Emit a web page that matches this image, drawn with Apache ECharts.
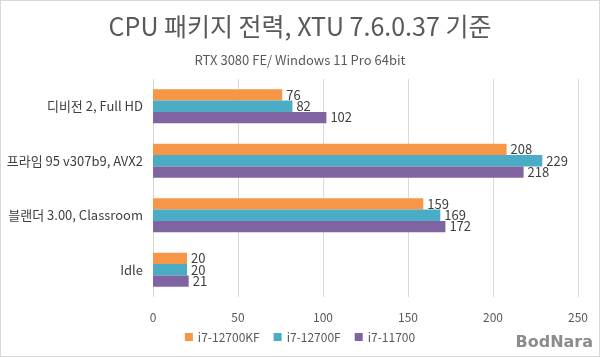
<!DOCTYPE html>
<html><head><meta charset="utf-8">
<script src="https://cdn.jsdelivr.net/npm/echarts@6/dist/echarts.min.js"></script>
<style>html,body{margin:0;padding:0;background:#fff}#c{width:598px;height:355px;border:1px solid #d9d9d9}</style>
</head><body><div id="c"></div>
<script>
const categories = ['디비전 2, Full HD', '프라임 95 v307b9, AVX2', '블랜더 3.00, Classroom', 'Idle'];
const seriesNames = ['i7-12700KF', 'i7-12700F', 'i7-11700'];
const s12700KF = [76, 208, 159, 20];
const s12700F = [82, 229, 169, 20];
const s11700 = [102, 218, 172, 21];
const xTicks = [0, 50, 100, 150, 200, 250];
const colors = ['#F79646', '#4BACC6', '#8064A2'];
const font = '"Noto Sans CJK KR", "Noto Sans", sans-serif';

const chart = echarts.init(document.getElementById('c'));
const mk = (name, data, i) => ({
  name, type: 'bar', data, barGap: '0%', barCategoryGap: '38%',
  itemStyle: { color: colors[i] },
  label: { show: true, position: 'right', distance: 4, color: '#404040', fontSize: 13, fontFamily: font },
  emphasis: { disabled: true }, animation: false
});
chart.setOption({
  animation: false,
  title: [
    { text: 'CPU 패키지 전력, XTU 7.6.0.37 기준', left: 'center', top: 8,
      textStyle: { fontSize: 25, fontWeight: 'normal', color: '#595959', fontFamily: font } },
    { text: 'RTX 3080 FE/ Windows 11 Pro 64bit', left: 'center', top: 48,
      textStyle: { fontSize: 13, fontWeight: 'normal', color: '#595959', fontFamily: font } }
  ],
  grid: { left: 152, right: 21, top: 78, bottom: 59, containLabel: false },
  legend: {
    bottom: 8, left: 'center', itemWidth: 8, itemHeight: 8, itemGap: 14, icon: 'rect',
    textStyle: { color: '#595959', fontSize: 12, fontFamily: font },
    data: seriesNames
  },
  xAxis: {
    type: 'value', min: xTicks[0], max: xTicks[xTicks.length - 1], interval: 50,
    axisLine: { show: false }, axisTick: { show: false },
    axisLabel: { color: '#595959', fontSize: 12, fontFamily: font, margin: 14 },
    splitLine: { lineStyle: { color: '#d9d9d9' } }
  },
  yAxis: {
    type: 'category', data: categories, inverse: true,
    axisLine: { show: false }, axisTick: { show: false },
    axisLabel: { color: '#404040', fontSize: 13, fontFamily: font, margin: 10 }
  },
  series: [mk(seriesNames[0], s12700KF, 0), mk(seriesNames[1], s12700F, 1), mk(seriesNames[2], s11700, 2)],
  graphic: [{
    type: 'text', right: 6, bottom: 5,
    style: { text: 'BodNara', font: 'bold 16px "DejaVu Sans", sans-serif', fill: '#8c8c8c' }
  }]
});
</script></body></html>
